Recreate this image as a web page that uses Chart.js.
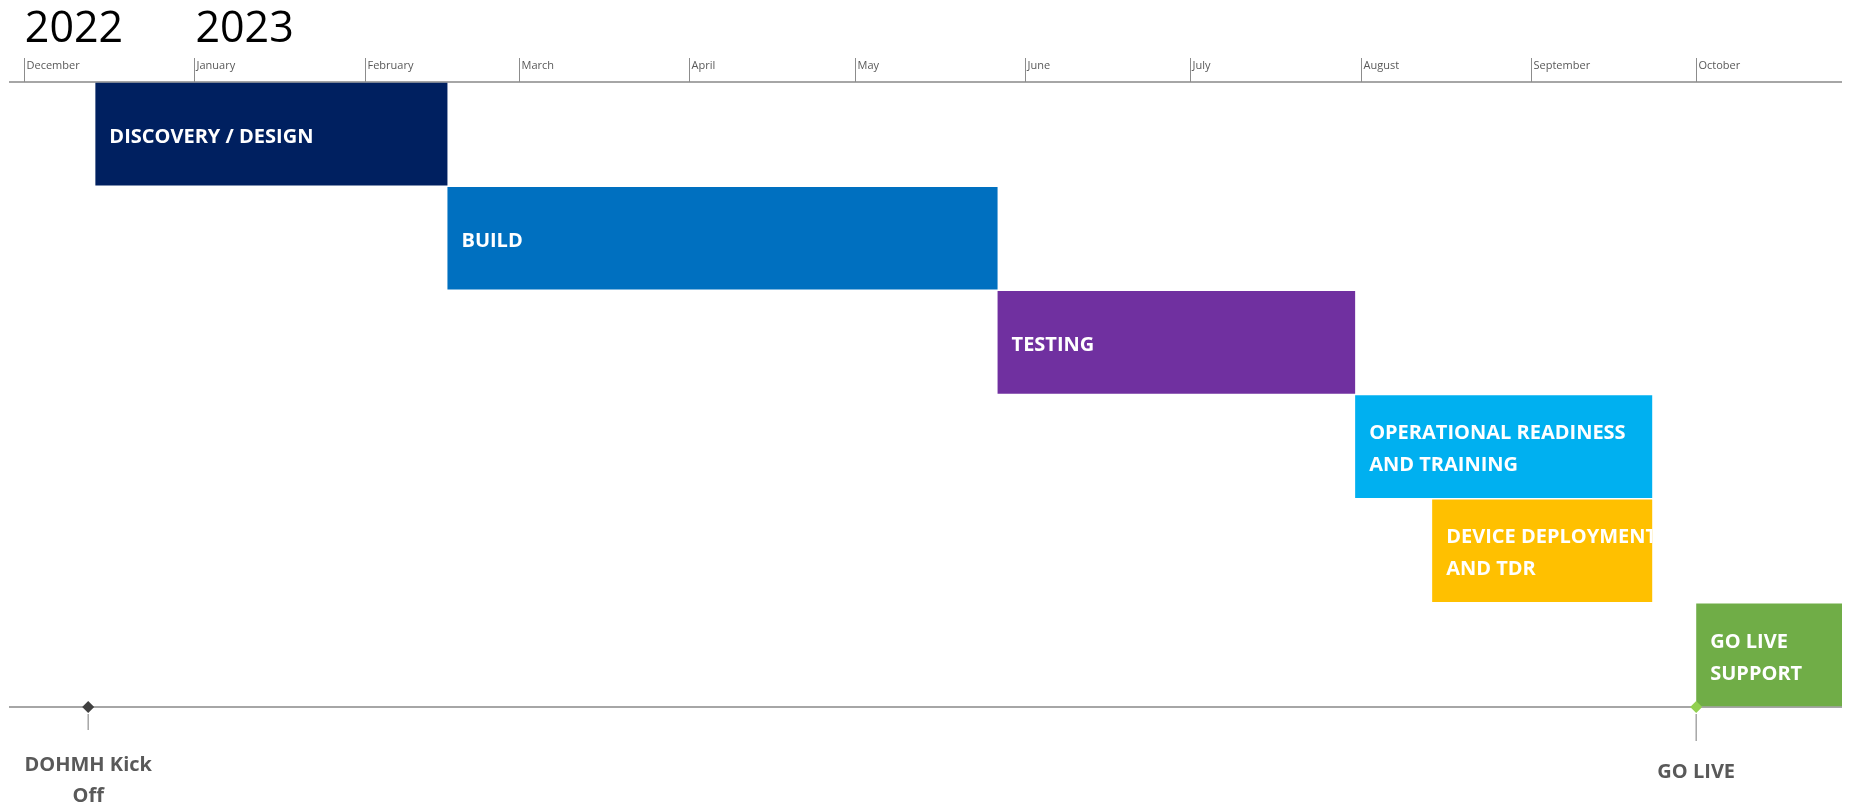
<!DOCTYPE html>
<html>
<head>
<meta charset="utf-8">
<title>Project timeline</title>
<script src="https://cdn.jsdelivr.net/npm/chart.js@4/dist/chart.umd.min.js"></script>
<style>
    html, body { margin: 0; padding: 0; background: #ffffff; }
    canvas { display: block; }
</style>
</head>
<body>
<canvas id="timeline" width="1851" height="805"></canvas>
<script>
// Days are counted from 1 December 2022 (day 0).
let phases = ['DISCOVERY / DESIGN', 'BUILD', 'TESTING', 'OPERATIONAL READINESS\nAND TRAINING', 'DEVICE DEPLOYMENT\nAND TDR', 'GO LIVE\nSUPPORT'];
let phaseStart = [13, 77, 177, 242, 256, 304];
let phaseEnd = [77, 177, 242, 296, 296, 331];
let phaseColors = ['#002060', '#0070c0', '#7030a0', '#00b0f0', '#ffc000', '#70ad47'];

let months = ['December', 'January', 'February', 'March', 'April', 'May', 'June', 'July', 'August', 'September', 'October'];
let monthStart = [0, 31, 62, 90, 121, 151, 182, 212, 243, 274, 304];

let years = ['2022', '2023'];
let yearStart = [0, 31];

let milestones = ['DOHMH Kick\nOff', 'GO LIVE'];
let milestoneDay = [11.7, 304];
let milestoneColors = ['#404040', '#92d050'];

// Draws the axis lines, month ticks, years, bar texts and milestones.
const timelinePlugin = {
    id: 'timeline',
    beforeDatasetsDraw(chart) {
        const {ctx, chartArea, scales: {x}} = chart;
        ctx.save();

        // Top and bottom lines.
        ctx.strokeStyle = '#a6a6a6';
        ctx.lineWidth = 2;
        ctx.beginPath();
        ctx.moveTo(chartArea.left, chartArea.top);
        ctx.lineTo(chartArea.right, chartArea.top);
        ctx.moveTo(chartArea.left, chartArea.bottom);
        ctx.lineTo(chartArea.right, chartArea.bottom);
        ctx.stroke();

        // Month ticks with the name to the right of them.
        ctx.strokeStyle = '#8c8c8c';
        ctx.lineWidth = 1;
        ctx.fillStyle = '#595959';
        ctx.font = '11px "Open Sans"';
        ctx.textAlign = 'left';
        ctx.textBaseline = 'middle';
        months.forEach((m, i) => {
            let px = Math.round(x.getPixelForValue(monthStart[i])) + 0.5;
            ctx.beginPath();
            ctx.moveTo(px, chartArea.top - 24);
            ctx.lineTo(px, chartArea.top);
            ctx.stroke();
            ctx.fillText(m, px + 2, chartArea.top - 16);
        });

        // Years above the first two months.
        ctx.fillStyle = '#000000';
        ctx.font = '43px "Open Sans"';
        years.forEach((y, i) => {
            ctx.fillText(y, x.getPixelForValue(yearStart[i]) + 1, 30);
        });

        ctx.restore();
    },
    afterDatasetsDraw(chart) {
        const {ctx, chartArea, scales: {x}} = chart;
        const meta = chart.getDatasetMeta(0);

        // Text inside each bar, cut at the bar edge.
        meta.data.forEach((bar, i) => {
            const {x: end, y, base, height} = bar.getProps(['x', 'y', 'base', 'height'], true);
            let left = Math.min(end, base);
            let right = Math.max(end, base);
            let lines = phases[i].split('\n');
            ctx.save();
            ctx.beginPath();
            ctx.rect(left, y - height / 2, right - left, height);
            ctx.clip();
            ctx.fillStyle = '#ffffff';
            ctx.font = 'bold 20px "Open Sans"';
            ctx.textAlign = 'left';
            ctx.textBaseline = 'middle';
            lines.forEach((t, j) => {
                ctx.fillText(t, left + 14, y + 3 + (j - (lines.length - 1) / 2) * 32);
            });
            ctx.restore();
        });

        // Milestones on the bottom line.
        ctx.save();
        milestones.forEach((m, i) => {
            let px = x.getPixelForValue(milestoneDay[i]);
            let py = chartArea.bottom;

            ctx.strokeStyle = '#a6a6a6';
            ctx.lineWidth = 1.5;
            ctx.beginPath();
            ctx.moveTo(px, py + 7);
            ctx.lineTo(px, py + (i === 0 ? 23 : 34));
            ctx.stroke();

            ctx.fillStyle = milestoneColors[i];
            ctx.beginPath();
            ctx.moveTo(px, py - 6);
            ctx.lineTo(px + 6, py);
            ctx.lineTo(px, py + 6);
            ctx.lineTo(px - 6, py);
            ctx.closePath();
            ctx.fill();

            ctx.fillStyle = '#595959';
            ctx.font = 'bold 20px "Open Sans"';
            ctx.textAlign = 'center';
            ctx.textBaseline = 'middle';
            let lines = m.split('\n');
            let top = i === 0 ? py + 58 : py + 65;
            lines.forEach((t, j) => ctx.fillText(t, px, top + j * 31));
        });
        ctx.restore();
    }
};

let timelineChart = new Chart(document.getElementById('timeline'), {
    type: 'bar',
    data: {
        labels: phases,
        datasets: [{
            data: phases.map((p, i) => [phaseStart[i], phaseEnd[i]]),
            backgroundColor: phaseColors,
            borderWidth: 0,
            borderSkipped: false,
            categoryPercentage: 1,
            barPercentage: 0.985
        }]
    },
    options: {
        indexAxis: 'y',
        responsive: false,
        animation: false,
        events: [],
        layout: {
            padding: {top: 82, left: 9, right: 9, bottom: 98}
        },
        scales: {
            x: {
                type: 'linear',
                min: -2.7,
                max: 330.5,
                display: false
            },
            y: {
                display: false
            }
        },
        plugins: {
            legend: {display: false},
            tooltip: {enabled: false}
        }
    },
    plugins: [timelinePlugin]
});
</script>
</body>
</html>
